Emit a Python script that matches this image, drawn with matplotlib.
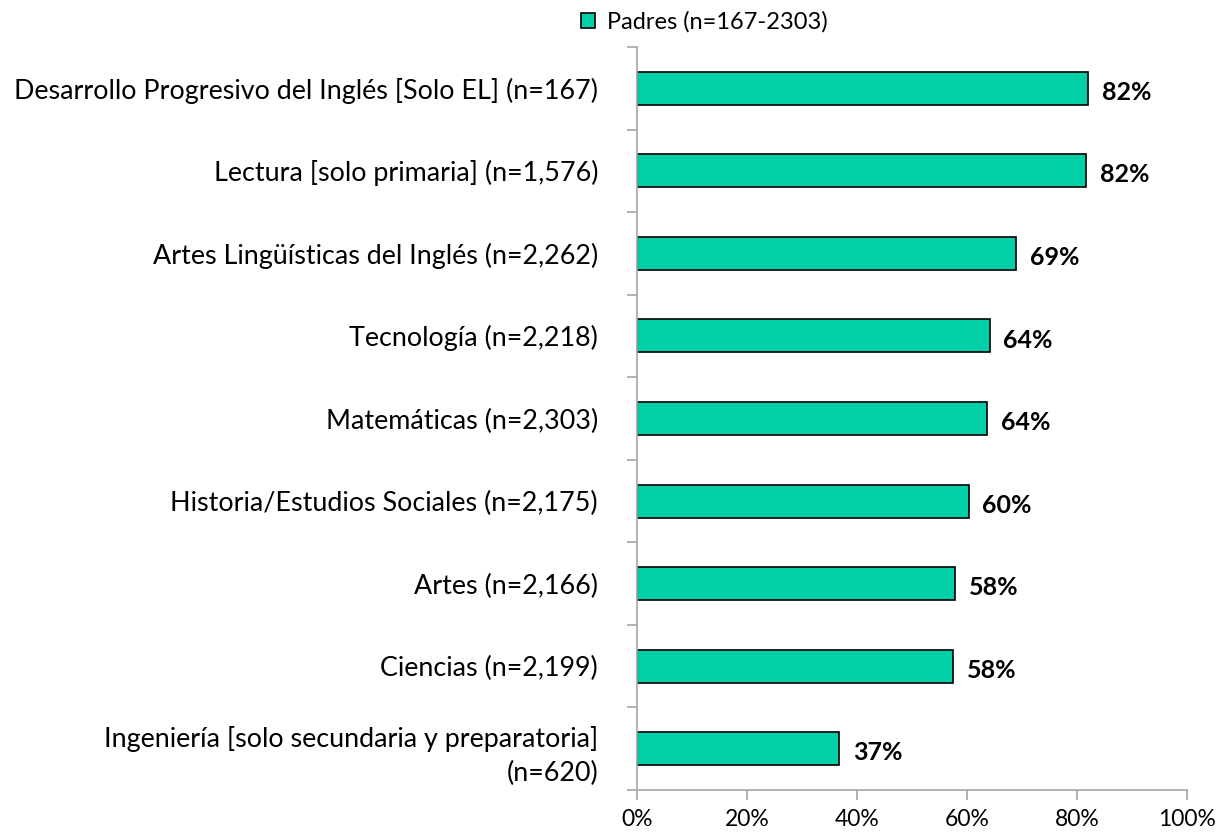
import matplotlib
matplotlib.use("Agg")
import matplotlib.pyplot as plt
from matplotlib.patches import Patch

plt.rcParams["font.family"] = ["Lato", "DejaVu Sans"]

CATEGORIES = [
    "Desarrollo Progresivo del Inglés [Solo EL] (n=167)",
    "Lectura [solo primaria] (n=1,576)",
    "Artes Lingüísticas del Inglés (n=2,262)",
    "Tecnología (n=2,218)",
    "Matemáticas (n=2,303)",
    "Historia/Estudios Sociales (n=2,175)",
    "Artes (n=2,166)",
    "Ciencias (n=2,199)",
    "Ingeniería [solo secundaria y preparatoria]\n(n=620)",
]
VALUES = [82.0, 81.6, 68.9, 64.1, 63.7, 60.3, 57.8, 57.5, 36.8]
LABELS = ["82%", "82%", "69%", "64%", "64%", "60%", "58%", "58%", "37%"]
X_TICKS = [0, 20, 40, 60, 80, 100]
SERIES_NAME = "Padres (n=167-2303)"

BAR_COLOR = "#00CFA8"
AXIS_COLOR = "#A6A6A6"

fig = plt.figure(figsize=(12.27, 8.38), dpi=100)
ax = fig.add_axes([637 / 1227, 1 - 790 / 838, 550 / 1227, 743 / 838])

pos = list(range(len(CATEGORIES)))
ax.barh(pos, VALUES, height=0.4, color=BAR_COLOR, edgecolor="black", linewidth=1.2)

for p, v, lab in zip(pos, VALUES, LABELS):
    ax.text(v + 2.5, p + 0.05, lab, va="center", ha="left",
            fontsize=18, fontweight="bold", color="black")

ax.set_xlim(0, 100)
ax.set_ylim(len(CATEGORIES) - 0.5, -0.5)
ax.set_xticks(X_TICKS)
ax.set_xticklabels([f"{t}%" for t in X_TICKS], fontsize=16.5)

# category ticks sit between bars, labels in the middle
ax.set_yticks([p - 0.5 for p in pos] + [len(pos) - 0.5])
ax.set_yticklabels([])
ax.set_yticks(pos, minor=True)
ax.set_yticklabels(CATEGORIES, minor=True, fontsize=19.4, ha="right", multialignment="right")
for t in ax.get_yticklabels(minor=True):
    t.set_linespacing(1.45)
ax.tick_params(axis="y", which="minor", length=0, pad=28)
ax.tick_params(axis="y", which="major", length=7, color=AXIS_COLOR, width=1.2)
ax.tick_params(axis="x", length=7, color=AXIS_COLOR, width=1.2, pad=7)

for side in ["top", "right"]:
    ax.spines[side].set_visible(False)
for side in ["left", "bottom"]:
    ax.spines[side].set_color(AXIS_COLOR)
    ax.spines[side].set_linewidth(1.2)

handle = Patch(facecolor=BAR_COLOR, edgecolor="black", linewidth=1.2)
fig.legend([handle], [SERIES_NAME], loc="center left",
           bbox_to_anchor=(560 / 1227, 1 - 22 / 838), frameon=False,
           fontsize=17, handlelength=0.6, handleheight=0.6, handletextpad=0.5)

plt.savefig("out.png", dpi=100)
